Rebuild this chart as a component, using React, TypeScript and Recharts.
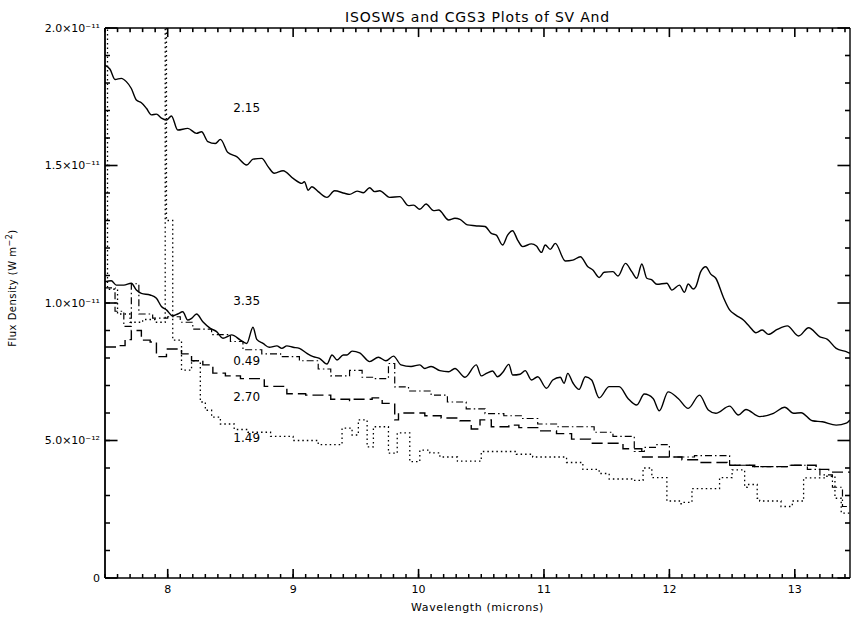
import React from 'react';
import { LineChart, Line, XAxis, YAxis, ReferenceLine, ReferenceDot } from 'recharts';

const CHART_W = 852;
const CHART_H = 617;
const PLOT_TOP = 28;
const FONT = '"DejaVu Sans", Arial, sans-serif';

// wavelength in microns, flux density in units of 1e-12 W m^-2
const xDomain = [7.5, 13.44];
const yDomain = [0, 20];
const xMajorTicks = [8, 9, 10, 11, 12, 13];
const xMinorTicks = Array.from({ length: 60 }, (_, i) => Math.round((7.5 + i * 0.1) * 10) / 10);
const yMajorTicks = [0, 5, 10, 15, 20];
const yMinorTicks = Array.from({ length: 21 }, (_, i) => i);
const yTickLabels = ['0', '5.0×10⁻¹²', '1.0×10⁻¹¹', '1.5×10⁻¹¹', '2.0×10⁻¹¹'];

// ISOSWS spectra (smooth)
const iso215: [number, number][] = [
  [7.5, 18.65], [7.54, 18.5], [7.58, 18.13], [7.63, 18.17], [7.67, 18.05], [7.71, 17.8], [7.75, 17.38],
  [7.79, 17.28], [7.83, 17.08], [7.87, 16.84], [7.91, 16.87], [7.95, 16.72], [7.99, 16.65], [8.03, 16.8],
  [8.08, 16.29], [8.16, 16.35], [8.23, 16.17], [8.27, 16.23], [8.32, 15.87], [8.38, 15.8], [8.42, 15.95],
  [8.48, 15.47], [8.55, 15.32], [8.63, 15.02], [8.68, 15.23], [8.75, 15.26], [8.8, 14.96], [8.85, 14.72],
  [8.92, 14.81], [9.0, 14.53], [9.07, 14.35], [9.09, 14.41], [9.12, 14.1], [9.15, 14.23], [9.2, 14.05],
  [9.27, 13.84], [9.33, 14.08], [9.41, 13.99], [9.45, 13.95], [9.51, 14.07], [9.56, 14.01], [9.61, 14.19],
  [9.65, 14.05], [9.69, 14.08], [9.77, 13.84], [9.85, 13.87], [9.92, 13.54], [9.96, 13.56], [10.01, 13.41],
  [10.06, 13.6], [10.12, 13.36], [10.16, 13.38], [10.24, 13.02], [10.29, 13.08], [10.33, 13.04], [10.39, 12.84],
  [10.45, 12.81], [10.53, 12.78], [10.58, 12.53], [10.62, 12.47], [10.67, 12.11], [10.71, 12.47], [10.75, 12.63],
  [10.79, 12.29], [10.83, 12.05], [10.9, 12.15], [10.94, 12.07], [10.98, 11.84], [11.01, 12.11], [11.05, 11.95],
  [11.09, 12.17], [11.17, 11.53], [11.23, 11.56], [11.29, 11.68], [11.35, 11.32], [11.39, 11.2], [11.44, 10.93],
  [11.48, 11.12], [11.55, 11.14], [11.59, 10.98], [11.65, 11.44], [11.7, 11.14], [11.74, 10.9], [11.78, 11.42],
  [11.82, 10.9], [11.86, 10.84], [11.9, 10.68], [11.98, 10.72], [12.02, 10.47], [12.08, 10.65], [12.12, 10.39],
  [12.15, 10.69], [12.19, 10.51], [12.21, 10.59], [12.25, 11.14], [12.29, 11.32], [12.33, 11.05], [12.37, 10.9],
  [12.43, 10.21], [12.48, 9.75], [12.53, 9.56], [12.59, 9.38], [12.64, 9.14], [12.69, 8.92], [12.74, 9.02],
  [12.79, 8.86], [12.86, 9.04], [12.94, 9.17], [13.03, 8.8], [13.11, 9.1], [13.2, 8.77], [13.26, 8.68],
  [13.33, 8.35], [13.41, 8.23], [13.44, 8.17],
];

const iso335: [number, number][] = [
  [7.5, 10.77], [7.55, 10.81], [7.59, 10.65], [7.65, 10.65], [7.71, 10.72], [7.75, 10.47], [7.79, 10.35],
  [7.86, 10.29], [7.91, 10.17], [7.95, 9.87], [7.99, 9.75], [8.04, 9.53], [8.08, 9.6], [8.12, 9.68],
  [8.16, 9.38], [8.19, 9.44], [8.23, 9.6], [8.28, 9.32], [8.34, 9.08], [8.39, 8.96], [8.44, 8.72],
  [8.51, 8.84], [8.58, 8.65], [8.63, 8.53], [8.68, 9.12], [8.71, 8.68], [8.76, 8.53], [8.81, 8.39],
  [8.87, 8.44], [8.91, 8.35], [8.95, 8.44], [9.0, 8.39], [9.05, 8.35], [9.11, 8.17], [9.16, 8.05],
  [9.21, 7.99], [9.27, 7.78], [9.31, 8.11], [9.35, 7.93], [9.4, 8.11], [9.43, 8.11], [9.47, 8.25],
  [9.53, 8.19], [9.61, 7.87], [9.68, 8.03], [9.74, 7.9], [9.8, 8.07], [9.86, 7.75], [9.94, 7.69],
  [10.01, 7.75], [10.05, 7.62], [10.1, 7.69], [10.17, 7.54], [10.24, 7.5], [10.29, 7.62], [10.37, 7.3],
  [10.46, 7.75], [10.5, 7.35], [10.54, 7.44], [10.59, 7.53], [10.63, 7.32], [10.67, 7.47], [10.72, 7.77],
  [10.75, 7.38], [10.81, 7.41], [10.85, 7.54], [10.9, 7.2], [10.95, 7.32], [11.02, 6.9], [11.07, 7.2],
  [11.13, 7.3], [11.16, 7.08], [11.19, 7.44], [11.23, 7.1], [11.28, 6.86], [11.33, 7.32], [11.38, 7.2],
  [11.44, 6.55], [11.52, 6.96], [11.6, 6.96], [11.67, 6.53], [11.74, 6.29], [11.8, 6.69], [11.87, 6.53],
  [11.92, 6.08], [11.99, 6.77], [12.07, 6.53], [12.15, 6.17], [12.24, 6.65], [12.31, 6.11], [12.37, 5.99],
  [12.48, 6.25], [12.55, 5.93], [12.61, 6.13], [12.72, 5.87], [12.83, 5.99], [12.92, 6.21], [12.99, 5.99],
  [13.05, 6.01], [13.14, 5.72], [13.22, 5.68], [13.33, 5.56], [13.41, 5.63], [13.44, 5.75],
];

// CGS3 spectra (binned, drawn as steps)
const cgs049: [number, number][] = [
  [7.5, 10.55], [7.58, 9.7], [7.65, 9.15], [7.71, 10.7], [7.77, 9.6], [7.88, 9.45], [8.0, 9.5],
  [8.1, 9.3], [8.2, 9.05], [8.35, 8.85], [8.5, 8.6], [8.6, 8.3], [8.75, 8.15], [8.9, 8.05],
  [9.05, 7.9], [9.2, 7.6], [9.3, 7.35], [9.45, 7.55], [9.55, 7.3], [9.65, 7.25], [9.76, 7.8],
  [9.81, 6.95], [9.92, 6.8], [10.1, 6.65], [10.23, 6.4], [10.38, 6.15], [10.53, 5.98], [10.68, 5.9],
  [10.83, 5.8], [10.95, 5.6], [11.1, 5.5], [11.4, 5.3], [11.55, 5.15], [11.72, 4.6], [11.8, 4.75],
  [11.9, 4.85], [12.0, 4.4], [12.2, 4.45], [12.48, 4.1], [12.65, 4.05], [12.95, 4.1], [13.1, 3.95],
  [13.2, 3.75], [13.3, 3.3], [13.38, 2.6], [13.44, 2.6],
];

const cgs270: [number, number][] = [
  [7.5, 8.4], [7.6, 8.45], [7.66, 8.67], [7.71, 9.0], [7.79, 8.65], [7.86, 8.58], [7.91, 8.05],
  [7.99, 8.33], [8.11, 8.15], [8.19, 7.9], [8.28, 7.75], [8.36, 7.45], [8.46, 7.35], [8.58, 7.25],
  [8.77, 6.97], [8.95, 6.7], [9.1, 6.65], [9.3, 6.5], [9.45, 6.45], [9.48, 6.5], [9.63, 6.55],
  [9.71, 6.35], [9.81, 5.75], [9.84, 6.0], [10.05, 5.9], [10.18, 5.82], [10.33, 5.72], [10.42, 5.42],
  [10.49, 5.75], [10.58, 5.5], [10.72, 5.56], [10.8, 5.47], [10.95, 5.35], [11.1, 5.25], [11.22, 5.05],
  [11.37, 4.9], [11.63, 4.7], [11.78, 4.4], [12.1, 4.3], [12.24, 4.2], [12.46, 4.1], [12.68, 4.05],
  [12.95, 4.1], [13.17, 3.95], [13.27, 3.85], [13.44, 3.85],
];

const cgs149: [number, number][] = [
  [7.5, 21], [7.52, 10.5], [7.6, 9.6], [7.7, 9.3], [7.8, 9.4], [7.9, 9.3], [7.98, 21], [7.99, 13.0],
  [8.04, 8.65], [8.11, 7.56], [8.19, 7.9], [8.26, 6.4], [8.3, 6.1], [8.35, 5.85], [8.42, 5.6],
  [8.53, 5.4], [8.64, 5.3], [8.82, 5.15], [9.0, 5.0], [9.2, 4.85], [9.39, 5.45], [9.47, 5.2],
  [9.52, 5.75], [9.59, 4.77], [9.64, 5.5], [9.76, 4.54], [9.83, 5.28], [9.93, 4.23], [10.01, 4.65],
  [10.09, 4.55], [10.17, 4.4], [10.31, 4.25], [10.5, 4.6], [10.78, 4.5], [10.91, 4.4], [11.18, 4.2],
  [11.31, 3.95], [11.44, 3.8], [11.52, 3.6], [11.7, 3.55], [11.79, 4.0], [11.86, 3.65], [11.98, 2.8],
  [12.08, 2.7], [12.1, 2.75], [12.18, 3.25], [12.4, 3.65], [12.5, 3.93], [12.6, 3.3], [12.62, 3.4],
  [12.7, 2.9], [12.72, 2.8], [12.89, 2.6], [12.98, 2.8], [13.07, 3.64], [13.25, 3.7], [13.32, 2.9],
  [13.37, 2.36], [13.44, 2.36],
];

const curveNames = ['2.15', '3.35', '0.49', '2.70', '1.49'];
const labelWavelength = 8.63;
const labelFlux = [17.1, 10.1, 7.9, 6.6, 5.1];

const toPoints = (arr: [number, number][]) => arr.map(([x, y]) => ({ x, y }));

const series = [
  { name: '2.15', data: toPoints(iso215), type: 'monotone', dash: undefined, width: 1.4 },
  { name: '3.35', data: toPoints(iso335), type: 'monotone', dash: undefined, width: 1.4 },
  { name: '0.49', data: toPoints(cgs049), type: 'stepAfter', dash: '7 3 1.5 3', width: 1.2 },
  { name: '2.70', data: toPoints(cgs270), type: 'stepAfter', dash: '11 5', width: 1.4 },
  { name: '1.49', data: toPoints(cgs149), type: 'stepAfter', dash: '1.5 3', width: 1.3 },
];

// inward tick lengths in data units of the perpendicular axis (top/right mirror, and the longer major ticks)
const xTickLen = (v: number) => (xMajorTicks.includes(v) ? 0.33 : 0.15);
const yTickLen = (v: number) => (yMajorTicks.includes(v) ? 0.1 : 0.04);

const fmtX = (v: number) => (xMajorTicks.includes(v) ? String(v) : '');
const fmtY = (v: number) => {
  const i = yMajorTicks.indexOf(v);
  return i >= 0 ? yTickLabels[i] : '';
};

const TICK_TEXT = { fontSize: 11, fill: '#000', fontFamily: FONT };

export default function App() {
  return (
    <div style={{ position: 'absolute', left: 0, top: 0, width: CHART_W, height: CHART_H, background: '#fff', fontFamily: FONT, color: '#000' }}>
      <LineChart width={CHART_W} height={CHART_H} margin={{ top: PLOT_TOP, right: 2, bottom: 0, left: 0 }}>
        <XAxis
          dataKey="x"
          type="number"
          domain={xDomain}
          allowDataOverflow
          ticks={xMinorTicks}
          interval={0}
          tickFormatter={fmtX}
          tick={TICK_TEXT}
          tickSize={-4}
          tickMargin={11}
          tickLine={{ stroke: '#000', strokeWidth: 1.5 }}
          axisLine={{ stroke: '#000', strokeWidth: 1.5 }}
          height={39}
        />
        <YAxis
          type="number"
          domain={yDomain}
          allowDataOverflow
          ticks={yMinorTicks}
          interval={0}
          tickFormatter={fmtY}
          tick={TICK_TEXT}
          tickSize={-5}
          tickMargin={10}
          tickLine={{ stroke: '#000', strokeWidth: 1.5 }}
          axisLine={{ stroke: '#000', strokeWidth: 1.8 }}
          width={105}
        />
        <ReferenceLine y={yDomain[1]} stroke="#000" strokeWidth={1.4} />
        <ReferenceLine x={xDomain[1]} stroke="#000" strokeWidth={1.4} />
        {xMajorTicks.map((v) => (
          <ReferenceLine key={`xb${v}`} segment={[{ x: v, y: yDomain[0] }, { x: v, y: yDomain[0] + xTickLen(v) }]} stroke="#000" strokeWidth={1.6} ifOverflow="visible" />
        ))}
        {xMinorTicks.map((v) => (
          <ReferenceLine key={`xt${v}`} segment={[{ x: v, y: yDomain[1] }, { x: v, y: yDomain[1] - xTickLen(v) }]} stroke="#000" strokeWidth={1.6} ifOverflow="visible" />
        ))}
        {yMajorTicks.map((v) => (
          <ReferenceLine key={`yl${v}`} segment={[{ x: xDomain[0], y: v }, { x: xDomain[0] + yTickLen(v), y: v }]} stroke="#000" strokeWidth={1.6} ifOverflow="visible" />
        ))}
        {yMinorTicks.map((v) => (
          <ReferenceLine key={`yr${v}`} segment={[{ x: xDomain[1], y: v }, { x: xDomain[1] - yTickLen(v), y: v }]} stroke="#000" strokeWidth={1.6} ifOverflow="visible" />
        ))}
        {series.map((s) => (
          <Line
            key={s.name}
            data={s.data}
            dataKey="y"
            type={s.type as any}
            stroke="#000"
            strokeWidth={s.width}
            strokeDasharray={s.dash}
            dot={false}
            activeDot={false}
            isAnimationActive={false}
          />
        ))}
        {curveNames.map((name, i) => (
          <ReferenceDot
            key={name}
            x={labelWavelength}
            y={labelFlux[i]}
            r={0}
            stroke="none"
            fill="none"
            label={{ value: name, position: 'center', fill: '#000', fontSize: 12, fontFamily: FONT }}
          />
        ))}
      </LineChart>
      <div style={{ position: 'absolute', left: 105, top: 9, width: 745, textAlign: 'center', fontSize: 14, lineHeight: '16px', letterSpacing: 0.8 }}>
        ISOSWS and CGS3 Plots of SV And
      </div>
      <div style={{ position: 'absolute', left: 105, top: 601, width: 745, textAlign: 'center', fontSize: 11, lineHeight: '13px', letterSpacing: 0.6 }}>
        Wavelength (microns)
      </div>
      <div
        style={{
          position: 'absolute',
          left: 13 - 70,
          top: 288 - 7,
          width: 140,
          height: 14,
          lineHeight: '14px',
          textAlign: 'center',
          fontSize: 10,
          letterSpacing: 0.5,
          transform: 'rotate(-90deg)',
          whiteSpace: 'nowrap',
        }}
      >
        Flux Density (W m<span style={{ fontSize: 8, verticalAlign: 'super', lineHeight: 0 }}>−2</span>)
      </div>
    </div>
  );
}
